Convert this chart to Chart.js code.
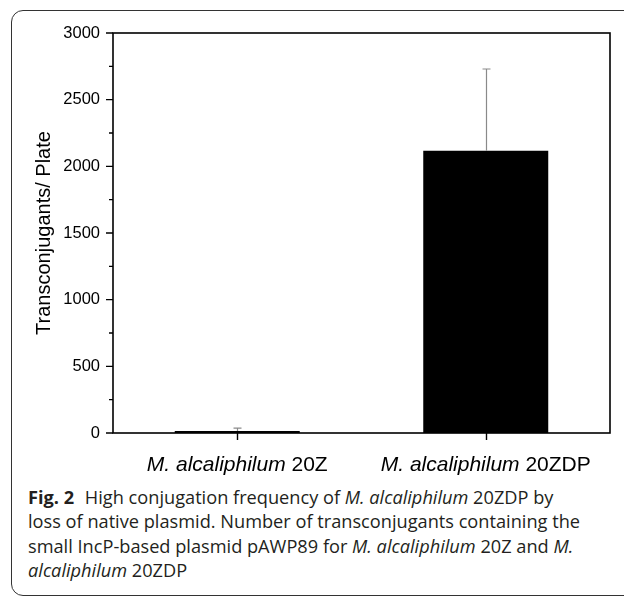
<!DOCTYPE html>
<html>
<head>
<meta charset="utf-8">
<script src="https://cdn.jsdelivr.net/npm/chart.js@4/dist/chart.umd.min.js"></script>
<style>
  body { margin: 0; background: #fff; width: 624px; height: 597px; overflow: hidden; position: relative; }
  #frame { position: absolute; left: 11px; top: 10px; width: 700px; height: 584px; border: 1.5px solid #333; border-radius: 12px; }
  #chart { position: absolute; left: 0; top: 0; }
  #caption { position: absolute; left: 28px; top: 485px; width: 595px; font-family: "Open Sans", "Noto Sans", sans-serif; font-size: 18.2px; line-height: 24.3px; color: #231f20; white-space: nowrap; }
  #caption b { font-weight: 700; margin-right: 6px; }
</style>
</head>
<body>
<div id="frame"></div>
<canvas id="chart" width="624" height="480"></canvas>
<div id="caption">
  <b>Fig. 2</b> High conjugation frequency of <i>M. alcaliphilum</i> 20ZDP by<br>
  loss of native plasmid. Number of transconjugants containing the<br>
  small IncP-based plasmid pAWP89 for <i>M. alcaliphilum</i> 20Z and <i>M.</i><br>
  <i>alcaliphilum</i> 20ZDP
</div>
<script>
var species = ['M. alcaliphilum', 'M. alcaliphilum'];
var strains = ['20Z', '20ZDP'];
var values = [15, 2117];
var errors = [22, 613];
var yMajor = [0, 500, 1000, 1500, 2000, 2500, 3000];
var yMinor = [250, 750, 1250, 1750, 2250, 2750];

var axisPlugin = {
    id: 'axisbox',
    afterDatasetsDraw: function (chart) {
        var ctx = chart.ctx;
        var a = chart.chartArea;
        var xs = chart.scales.x;
        var ys = chart.scales.y;
        ctx.save();

        // error bars, upper side only
        ctx.strokeStyle = '#8a8a8a';
        ctx.lineWidth = 1.2;
        values.forEach(function (v, i) {
            var px = Math.round(xs.getPixelForValue(i)) + 0.5;
            var base = ys.getPixelForValue(v);
            var top = ys.getPixelForValue(v + errors[i]);
            ctx.beginPath();
            ctx.moveTo(px, base);
            ctx.lineTo(px, top);
            ctx.moveTo(px - 4, top);
            ctx.lineTo(px + 4, top);
            ctx.stroke();
        });

        // frame round the plot
        ctx.strokeStyle = '#000';
        ctx.lineWidth = 1.6;
        ctx.strokeRect(a.left, a.top, a.right - a.left, a.bottom - a.top);

        // y ticks
        ctx.lineWidth = 1.4;
        ctx.beginPath();
        yMajor.forEach(function (v) {
            var py = ys.getPixelForValue(v);
            ctx.moveTo(a.left - 7, py);
            ctx.lineTo(a.left, py);
        });
        yMinor.forEach(function (v) {
            var py = ys.getPixelForValue(v);
            ctx.moveTo(a.left - 4, py);
            ctx.lineTo(a.left, py);
        });
        // x ticks
        strains.forEach(function (s, i) {
            var px = Math.round(xs.getPixelForValue(i)) + 0.5;
            ctx.moveTo(px, a.bottom);
            ctx.lineTo(px, a.bottom + 7);
        });
        ctx.stroke();

        // x labels: italic genus + plain strain
        ctx.fillStyle = '#000';
        ctx.textBaseline = 'middle';
        ctx.textAlign = 'left';
        var italic = 'italic 21px "Liberation Sans", Arial, sans-serif';
        var plain = '21px "Liberation Sans", Arial, sans-serif';
        strains.forEach(function (s, i) {
            var first = species[i] + ' ';
            ctx.font = italic;
            var w1 = ctx.measureText(first).width;
            ctx.font = plain;
            var w2 = ctx.measureText(s).width;
            var x0 = xs.getPixelForValue(i) - (w1 + w2) / 2;
            var py = a.bottom + 32;
            ctx.font = italic;
            ctx.fillText(first, x0, py);
            ctx.font = plain;
            ctx.fillText(s, x0 + w1, py);
        });
        ctx.restore();
    }
};

var chart = new Chart(document.getElementById('chart'), {
    type: 'bar',
    data: {
        labels: strains,
        datasets: [{
            data: values,
            backgroundColor: '#000',
            borderWidth: 0,
            categoryPercentage: 1.0,
            barPercentage: 0.503
        }]
    },
    options: {
        responsive: false,
        animation: false,
        events: [],
        layout: { padding: { top: 33, right: 14, left: 0, bottom: 0 } },
        plugins: {
            legend: { display: false },
            tooltip: { enabled: false }
        },
        scales: {
            x: {
                offset: true,
                grid: { display: false, drawTicks: false },
                border: { display: false },
                ticks: { display: false },
                afterFit: function (scale) { scale.height = 47; }
            },
            y: {
                min: 0,
                max: 3000,
                grid: { display: false, drawTicks: false },
                border: { display: false },
                ticks: {
                    stepSize: 500,
                    padding: 13,
                    color: '#000',
                    font: { family: '"Liberation Sans", Arial, sans-serif', size: 16.5 },
                    callback: function (v) { return String(v); }
                },
                title: {
                    display: true,
                    text: 'Transconjugants/ Plate',
                    color: '#000',
                    font: { family: '"Liberation Sans", Arial, sans-serif', size: 20 },
                    padding: { top: 32, bottom: 0 }
                },
                afterFit: function (scale) { scale.width = 113; }
            }
        }
    },
    plugins: [axisPlugin]
});
</script>
</body>
</html>
